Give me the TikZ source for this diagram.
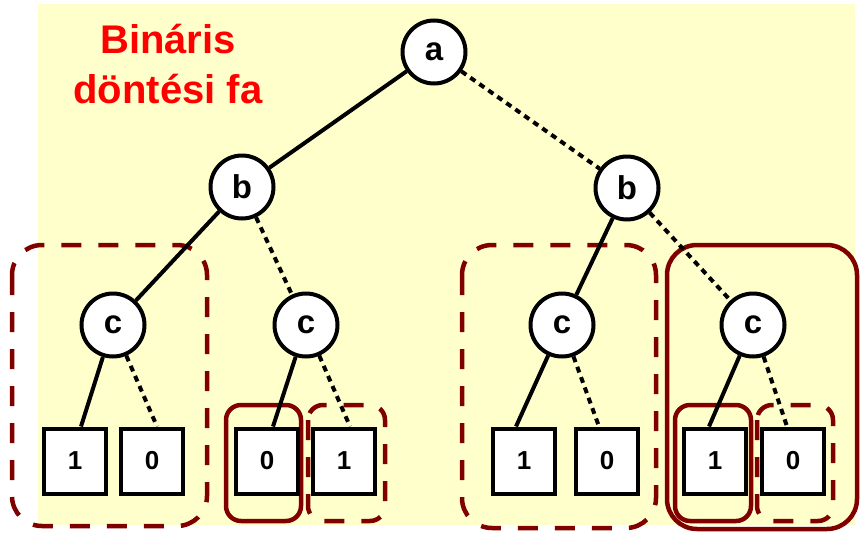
\documentclass[tikz,border=0pt]{standalone}
\usepackage{fontspec}
\setmainfont{Liberation Sans}
\definecolor{bgyellow}{HTML}{FFFFCC}
\definecolor{darkred}{HTML}{800000}
\begin{document}
\begin{tikzpicture}[x=1pt,y=-1pt,
  dec/.style={circle,draw,line width=4pt,fill=white,minimum size=63pt,inner sep=0pt,font=\fontsize{33}{33}\selectfont\bfseries},
  leaf/.style={rectangle,draw,line width=4pt,fill=white,minimum width=62pt,minimum height=65pt,inner sep=0pt,font=\fontsize{26}{26}\selectfont\bfseries},
  hi/.style={line width=4pt,line cap=butt},
  lo/.style={line width=4pt,dash pattern=on 6pt off 5pt},
  grpdash/.style={draw=darkred,line width=4.5pt,dash pattern=on 20pt off 17pt},
  grpsolid/.style={draw=darkred,line width=4.5pt},
  ttl/.style={text=red,font=\fontsize{40}{50}\selectfont\bfseries,anchor=base,inner sep=0pt}
]
\useasboundingbox (0,0) rectangle (861,533);
\fill[bgyellow] (38,4) rectangle (855,525);
% group frames
\draw[grpdash,rounded corners=30pt] (12,245) rectangle (207,526);
\draw[grpdash,rounded corners=30pt] (462,245) rectangle (656,528);
\draw[grpsolid,rounded corners=30pt] (667,245) rectangle (857,529);
\draw[grpsolid,rounded corners=15pt] (226,405) rectangle (301,521);
\draw[grpdash,rounded corners=15pt] (308,405) rectangle (385,521);
\draw[grpsolid,rounded corners=15pt] (675,405) rectangle (751,521);
\draw[grpdash,rounded corners=15pt] (757,405) rectangle (833,521);
% title
\node[ttl] (t1) at (168,53) {Bináris};
\node[ttl] (t2) at (168,103) {döntési fa};
% nodes
\node[dec] (a) at (434,52) {a};
\node[dec] (bL) at (242,187) {b};
\node[dec] (bR) at (627,188) {b};
\node[dec] (c1) at (113,325) {c};
\node[dec] (c2) at (306,325) {c};
\node[dec] (c3) at (562,325) {c};
\node[dec] (c4) at (753,325) {c};
\node[leaf] (l1) at (75,461) {1};
\node[leaf] (l2) at (152,461) {0};
\node[leaf] (l3) at (267,461) {0};
\node[leaf] (l4) at (344,461) {1};
\node[leaf] (l5) at (524,461) {1};
\node[leaf] (l6) at (607,461) {0};
\node[leaf] (l7) at (715,461) {1};
\node[leaf] (l8) at (793,461) {0};
% edges
\draw[hi] (a) -- (bL);
\draw[lo] (a) -- (bR);
\draw[hi] (bL) -- (c1);
\draw[lo] (bL) -- (c2);
\draw[hi] (bR) -- (c3);
\draw[lo] (bR) -- (c4);
\draw[hi] (c1) -- ([xshift=6pt]l1.north);
\draw[lo] (c1) -- ([xshift=5pt]l2.north);
\draw[hi] (c2) -- ([xshift=6pt]l3.north);
\draw[lo] (c2) -- ([xshift=6pt]l4.north);
\draw[hi] (c3) -- ([xshift=-8pt]l5.north);
\draw[lo] (c3) -- ([xshift=-8pt]l6.north);
\draw[hi] (c4) -- ([xshift=-6pt]l7.north);
\draw[lo] (c4) -- ([xshift=-6pt]l8.north);
\end{tikzpicture}
\end{document}
